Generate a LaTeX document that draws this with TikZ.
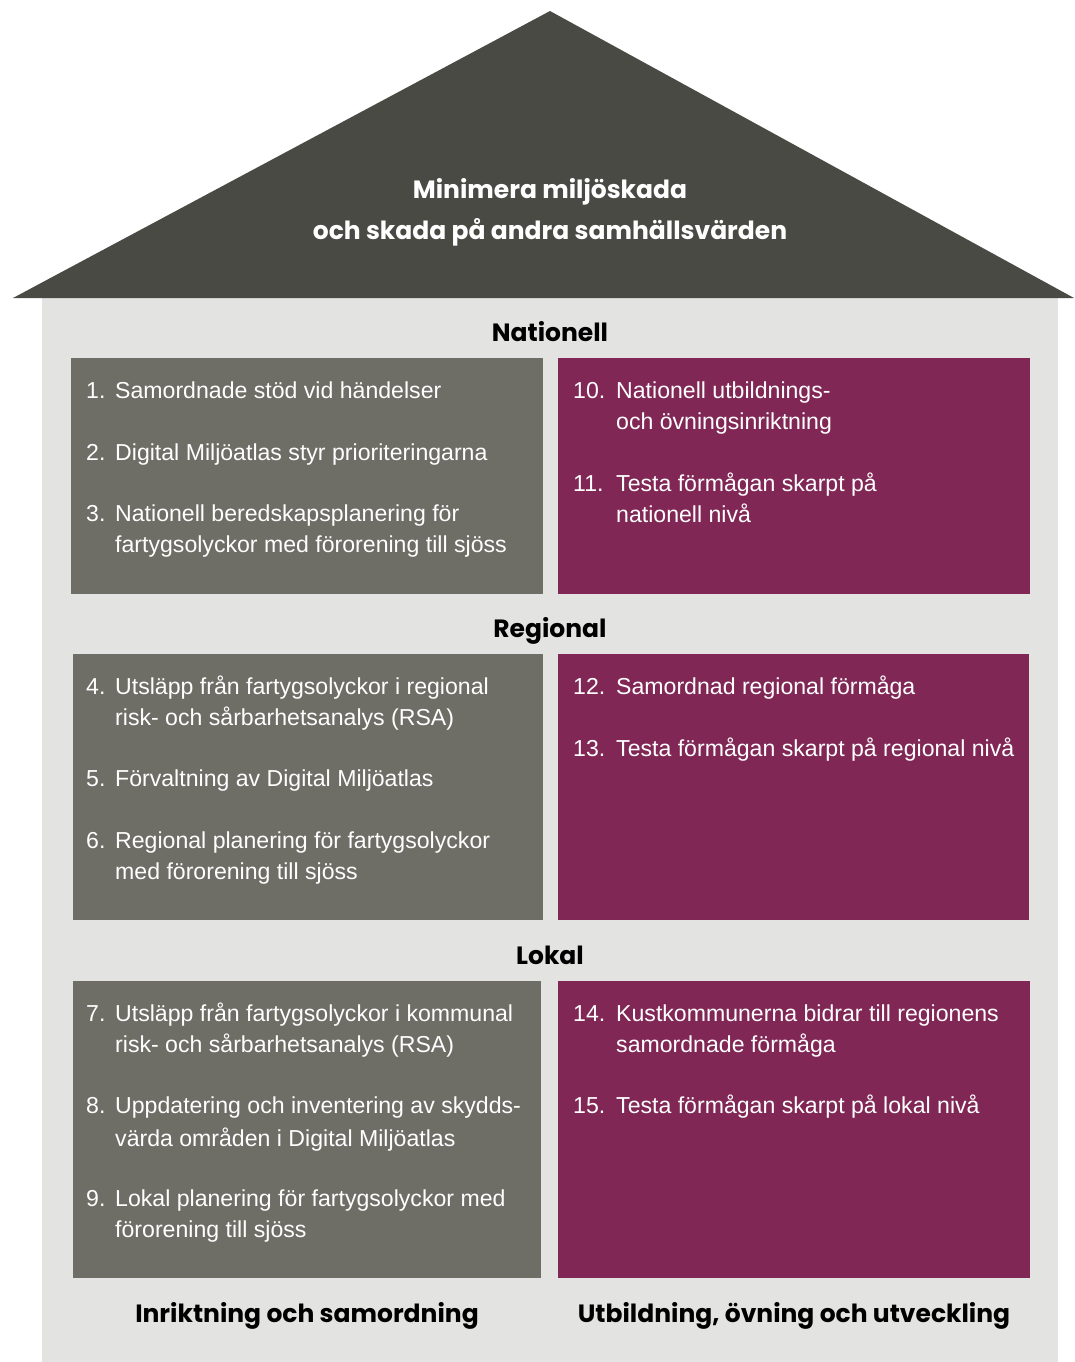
\documentclass[tikz,border=0pt]{standalone}
\usepackage{fontspec}
\setmainfont{Liberation Sans}
\newfontfamily\headfont{Poppins}
\usetikzlibrary{positioning}
\definecolor{roofgray}{HTML}{4A4A44}
\definecolor{wallgray}{HTML}{E3E3E1}
\definecolor{boxgray}{HTML}{6E6D66}
\definecolor{boxplum}{HTML}{812756}
\newcommand{\lines}[1]{\begin{tabular}[t]{@{}l@{}}#1\end{tabular}}

\begin{document}
\begin{tikzpicture}[x=1pt,y=-1pt,
	field/.style={inner sep=0, anchor=north west, minimum width=472pt},
	level/.style={inner sep=0, anchor=base, text=black, font=\headfont\bfseries\fontsize{25}{25}\selectfont},
	itemnum/.style={anchor=base west, inner sep=0, text=white, font=\fontsize{23.1}{31}\selectfont},
	itemtext/.style={itemnum}]
		\useasboundingbox (0,0) rectangle (1074,1362);
		% house
		\fill[wallgray] (42,298) rectangle (1058,1362);
		\fill[roofgray] (550,11) -- (1074,298) -- (13,298) -- cycle;
		\node[inner sep=0, text=white, align=center, font=\headfont\bfseries\fontsize{25}{41}\selectfont] (goal) at (550,212)
			{Minimera miljöskada\\och skada på andra samhällsvärden};
		% levels
		\node[level] (nat) at (550,341) {Nationell};
		\node[level] (reg) at (550,637) {Regional};
		\node[level] (lok) at (550,964) {Lokal};
		% fields
		\node[field, fill=boxgray, minimum height=236pt] (nat-l) at (71,358) {};
		\node[field, fill=boxplum, minimum height=236pt] (nat-r) at (558,358) {};
		\node[field, fill=boxgray, minimum height=266pt, minimum width=470pt] (reg-l) at (73,654) {};
		\node[field, fill=boxplum, minimum height=266pt, minimum width=471pt] (reg-r) at (558,654) {};
		\node[field, fill=boxgray, minimum height=297pt, minimum width=468pt] (lok-l) at (73,981) {};
		\node[field, fill=boxplum, minimum height=297pt] (lok-r) at (558,981) {};
		% items, left column
		\foreach \y/\n/\t in {398/1/Samordnade stöd vid händelser,
			460/2/Digital Miljöatlas styr prioriteringarna,
			521/3/{Nationell beredskapsplanering för\\fartygsolyckor med förorening till sjöss},
			694/4/{Utsläpp från fartygsolyckor i regional\\risk- och sårbarhetsanalys (RSA)},
			786/5/Förvaltning av Digital Miljöatlas,
			848/6/{Regional planering för fartygsolyckor\\med förorening till sjöss},
			1021/7/{Utsläpp från fartygsolyckor i kommunal\\risk- och sårbarhetsanalys (RSA)},
			1113/8/{Uppdatering och inventering av skydds-\\[2pt]värda områden i Digital Miljöatlas},
			1206/9/{Lokal planering för fartygsolyckor med\\förorening till sjöss}}{
			\node[itemnum] (num-\n) at (86,\y) {\n.};
			\node[itemtext] (item-\n) at (115,\y) {\lines{\t}};}
		% items, right column
		\foreach \y/\n/\t in {398/10/{Nationell utbildnings-\\och övningsinriktning},
			491/11/{Testa förmågan skarpt på\\nationell nivå},
			694/12/Samordnad regional förmåga,
			756/13/Testa förmågan skarpt på regional nivå,
			1021/14/{Kustkommunerna bidrar till regionens\\samordnade förmåga},
			1113/15/Testa förmågan skarpt på lokal nivå}{
			\node[itemnum] (num-\n) at (573,\y) {\n.};
			\node[itemtext] (item-\n) at (616,\y) {\lines{\t}};}
		% columns
		\node[level] (col-l) at (307,1322) {Inriktning och samordning};
		\node[level] (col-r) at (794,1322) {Utbildning, övning och utveckling};
\end{tikzpicture}
\end{document}
